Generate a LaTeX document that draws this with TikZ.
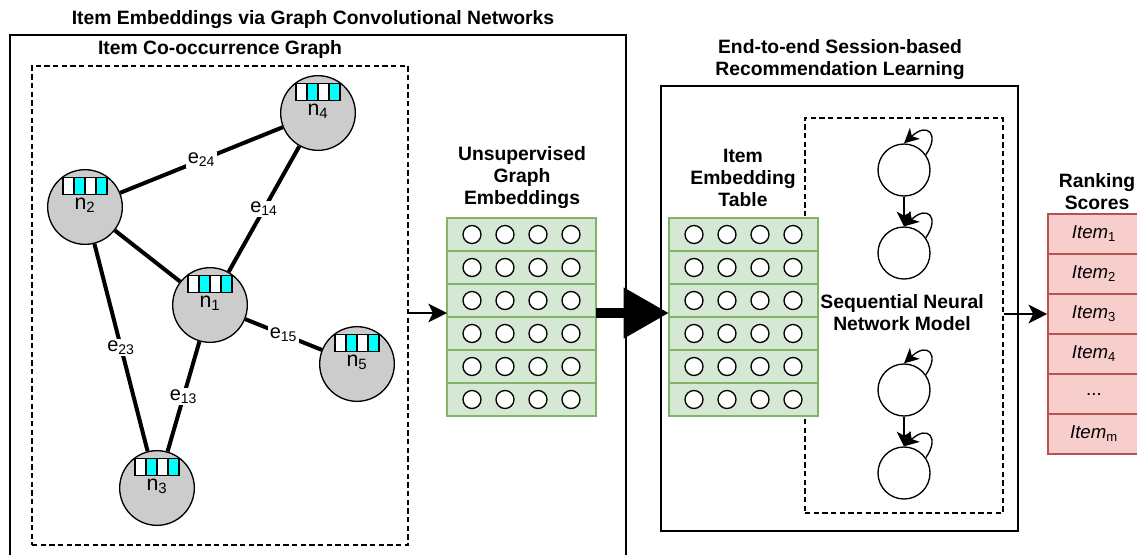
\documentclass[tikz,border=0pt]{standalone}
\usepackage{fontspec}
\setmainfont{Liberation Sans}
\usetikzlibrary{arrows.meta,fit,calc}
\definecolor{gfill}{HTML}{D5E8D4}
\definecolor{gline}{HTML}{82B366}
\definecolor{rfill}{HTML}{F8CECC}
\definecolor{rline}{HTML}{B85450}
\definecolor{ncyan}{RGB}{0,255,255}
\definecolor{ngray}{HTML}{CCCCCC}
\tikzset{
  ttl/.style={font=\fontsize{14.5}{16.5}\selectfont\bfseries, align=center, inner sep=0},
  gcirc/.style={circle, draw, fill=ngray, line width=1pt, minimum size=56pt, inner sep=0},
  glabel/.style={font=\fontsize{16}{18}\selectfont, inner sep=0},
  gedge/.style={line width=3pt},
  elabel/.style={fill=white, inner sep=1pt, font=\fontsize{15}{17}\selectfont},
  arr/.style={line width=1.5pt, -{Stealth[length=14pt,width=14pt,inset=3.5pt]}},
  solidbox/.style={draw, line width=1pt},
  dbox/.style={draw, line width=1pt, dash pattern=on 4pt off 2.5pt},
  rnode/.style={circle, draw, fill=white, line width=1pt, minimum size=39pt, inner sep=0},
  rarr/.style={line width=1pt, -{Stealth[length=11pt,width=11pt,inset=3pt]}},
  rrow/.style={rectangle, draw=rline, fill=rfill, line width=1.2pt, minimum width=69pt, minimum height=30pt, inner sep=0, font=\fontsize{14}{16}\selectfont},
}
\newcommand\gnode[4]{%
  \node[gcirc] (#1) at (#2,#3) {};
  \node[glabel, anchor=base] (#1t) at (#2,{#3+2}) {n\textsubscript{#4}};
  \foreach \i/\c in {0/white,1/ncyan,2/white,3/ncyan}
    \draw[fill=\c, line width=1pt] ({#2-22+11*\i},{#3-29.5}) rectangle ++(11,17);
}
\newcommand\embgrid[3]{%
  \node[fit={(#2,#3) ({#2+149},{#3+198})}, inner sep=0, outer sep=0] (#1) {};
  \foreach \r in {0,...,5} {
    \draw[gline, fill=gfill, line width=1.2pt] ({#2},{#3+33*\r}) rectangle ++(149,33);
    \foreach \c in {0,...,3}
      \draw[fill=white, line width=1pt] ({#2+25+33*\c},{#3+16.5+33*\r}) circle[radius=9];
  }
}
\newcommand\itm[1]{\textit{Item}\textsubscript{#1}}
\begin{document}
\begin{tikzpicture}[x=0.75pt,y=-0.75pt]
\useasboundingbox (0,0) rectangle (1137,554);
\clip (0,0) rectangle (1137,554);

% left part
\node[ttl] (t1) at (313,20) {Item Embeddings via Graph Convolutional Networks};
\node[solidbox, fit={(10,35) (626,570)}, inner sep=0] (box1) {};
\node[dbox, fit={(32,66) (408,545)}, inner sep=0] (dbox1) {};
\node[ttl] (t2) at (220,49) {Item Co-occurrence Graph};

\gnode{n4}{318}{113}{4}
\gnode{n2}{85}{207}{2}
\gnode{n1}{210}{305}{1}
\gnode{n5}{357}{364}{5}
\gnode{n3}{157}{488}{3}

\draw[gedge] (n2) -- node[elabel] (e24) {e\textsubscript{24}} (n4);
\draw[gedge] (n4) -- node[elabel] (e14) {e\textsubscript{14}} (n1);
\draw[gedge] (n2) -- (n1);
\draw[gedge] (n2) -- node[elabel] (e23) {e\textsubscript{23}} (n3);
\draw[gedge] (n1) -- node[elabel] (e13) {e\textsubscript{13}} (n3);
\draw[gedge] (n1) -- node[elabel] (e15) {e\textsubscript{15}} (n5);

% embeddings
\node[ttl] (t4) at (522,178) {Unsupervised\\Graph\\Embeddings};
\embgrid{g1}{447}{218}
\coordinate (a1) at ($(g1.west)+(0,-4)$);
\draw[arr] (a1 -| dbox1.east) -- (a1);

% right part
\node[ttl] (t3) at (840,59.5) {End-to-end Session-based\\Recommendation Learning};
\node[solidbox, fit={(661,86) (1018,531)}, inner sep=0] (box2) {};
\node[dbox, fit={(805,118) (1003,513)}, inner sep=0] (rnn) {};
\node[ttl] (t5) at (743,178) {Item\\Embedding\\Table};
\embgrid{g2}{669}{218}

\draw[line width=8pt, -{Triangle[length=34pt,width=36pt]}] ($(g1.east)+(0,-4)$) -- ($(g2.west)+(0,-4)$);

\node[ttl] (t6) at (902,313) {Sequential Neural\\Network Model};
\node[rnode] (c1) at (904,170) {};
\node[rnode] (c2) at (904,253) {};
\node[rnode] (c3) at (904,390) {};
\node[rnode] (c4) at (904,473) {};
\draw[rarr] (c1) -- (c2);
\draw[rarr] (c3) -- (c4);
\foreach \c in {c1,c2,c3,c4}
  \draw[rarr] (\c.35) .. controls +(14,-20) and +(24,-22) .. (\c.north);

% ranking
\node[ttl] (t7) at (1097,192) {Ranking\\Scores};
\node[rrow] (r1) at (1094,234) {\itm{1}};
\node[rrow] (r2) at (1094,274) {\itm{2}};
\node[rrow] (r3) at (1094,314) {\itm{3}};
\node[rrow] (r4) at (1094,354) {\itm{4}};
\node[rrow] (r5) at (1094,394) {...};
\node[rrow] (r6) at (1094,434) {\itm{m}};
\draw[arr] (r3.west -| rnn.east) -- (r3.west);
\end{tikzpicture}
\end{document}
